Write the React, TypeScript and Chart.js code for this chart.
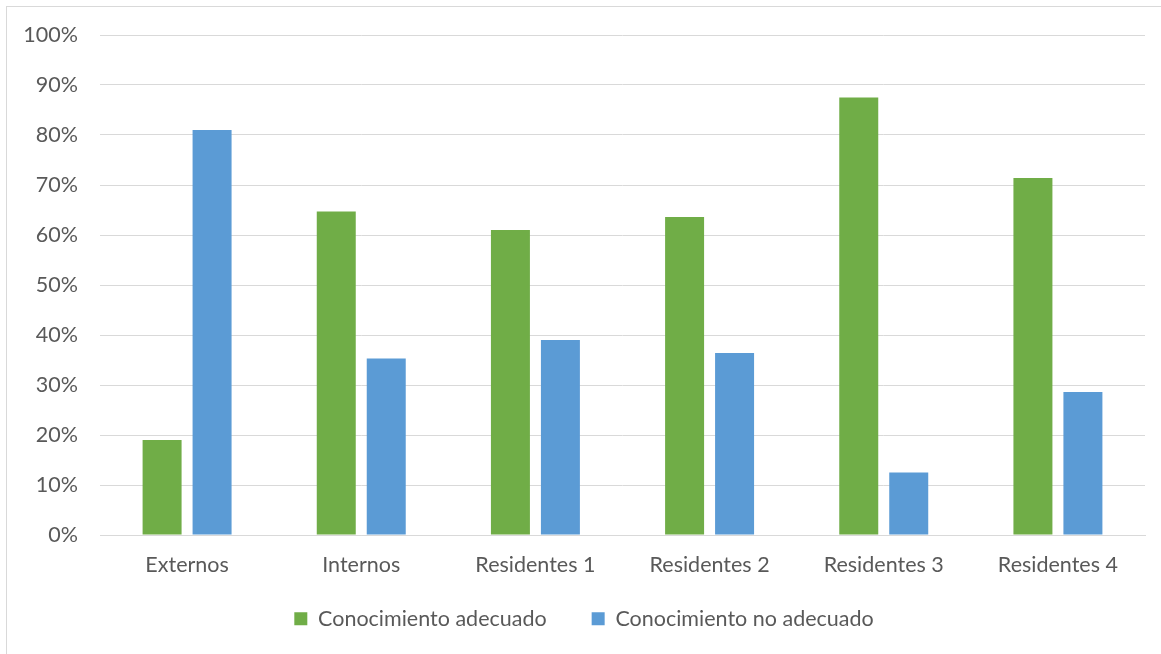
import React, { useEffect, useRef } from "react";
import { Chart, registerables } from "chart.js";

Chart.register(...registerables);

const categories = ["Externos", "Internos", "Residentes 1", "Residentes 2", "Residentes 3", "Residentes 4"];
const adecuado = [19.0, 64.7, 61.0, 63.6, 87.5, 71.4];
const noAdecuado = [81.0, 35.3, 39.0, 36.4, 12.5, 28.6];
const seriesNames = ["Conocimiento adecuado", "Conocimiento no adecuado"];
const seriesColors = ["#70AD47", "#5B9BD5"];

const FONT = "Lato, 'Open Sans', sans-serif";
const FS = 21.5;
const TEXT = "#595959";

export default function App() {
  const ref = useRef<HTMLCanvasElement | null>(null);
  useEffect(() => {
    if (!ref.current) return;
    const chart = new Chart(ref.current, {
      type: "bar",
      data: {
        labels: categories,
        datasets: [
          { label: seriesNames[0], data: adecuado, backgroundColor: seriesColors[0], categoryPercentage: 0.574, barPercentage: 0.78 },
          { label: seriesNames[1], data: noAdecuado, backgroundColor: seriesColors[1], categoryPercentage: 0.574, barPercentage: 0.78 },
        ],
      },
      options: {
        responsive: false,
        animation: false,
        layout: { padding: { top: 28, right: 16, bottom: 14.5, left: 16 } },
        plugins: {
          tooltip: { enabled: false },
          legend: {
            position: "bottom",
            labels: {
              boxWidth: 13,
              boxHeight: 13,
              padding: 34,
              color: TEXT,
              font: { family: FONT, size: FS },
              generateLabels: (c: any) => {
                const items = (Chart.defaults.plugins.legend.labels as any).generateLabels(c);
                items[0].text = items[0].text + "  ";
                return items;
              },
            },
          },
        },
        scales: {
          x: {
            grid: { display: false, drawTicks: false },
            border: { display: true, color: "#d9d9d9", width: 1 },
            ticks: { color: TEXT, font: { family: FONT, size: FS }, padding: 17, maxRotation: 0 },
            afterFit: (s: any) => { s.height = 39; },
          },
          y: {
            min: 0,
            max: 100,
            grid: { color: "#d9d9d9", lineWidth: 1, drawTicks: true, tickLength: 10, tickColor: "rgba(0,0,0,0)" },
            border: { display: false },
            ticks: {
              stepSize: 10,
              color: TEXT,
              font: { family: FONT, size: FS },
              padding: 12,
              callback: (v: any) => v + "%",
            },
            afterFit: (s: any) => { s.width = 77; },
          },
        },
      },
    });
    return () => chart.destroy();
  }, []);
  return (
    <div
      style={{
        position: "absolute",
        left: 6,
        top: 6,
        width: 1154,
        height: 647,
        borderTop: "1px solid #d9d9d9",
        borderLeft: "1px solid #d9d9d9",
        background: "#fff",
      }}
    >
      <canvas ref={ref} width={1154} height={647} style={{ display: "block" }} />
    </div>
  );
}
